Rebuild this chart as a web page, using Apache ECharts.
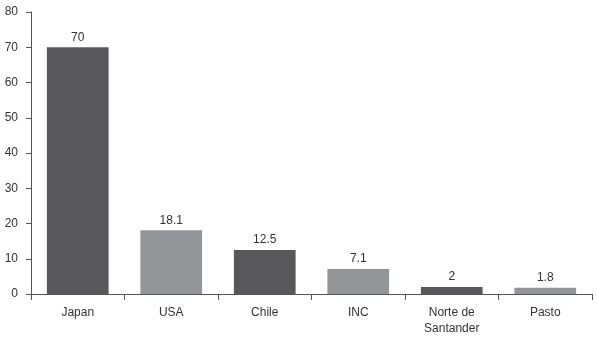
<!DOCTYPE html>
<html>
<head>
<meta charset="utf-8">
<script src="https://cdn.jsdelivr.net/npm/echarts@6/dist/echarts.min.js"></script>
<style>
  html, body { margin: 0; padding: 0; background: #fff; }
  #main { width: 597px; height: 344px; }
</style>
</head>
<body>
<div id="main"></div>
<script>
// categories and values
var categories = ['Japan', 'USA', 'Chile', 'INC', 'Norte de\nSantander', 'Pasto'];
var values = [70, 18.1, 12.5, 7.1, 2, 1.8];
var barColors = ['#58585a', '#939598', '#58585a', '#939598', '#58585a', '#939598'];
var yTicks = [0, 10, 20, 30, 40, 50, 60, 70, 80];

var myChart = echarts.init(document.getElementById('main'));

myChart.setOption({
    animation: false,
    textStyle: { fontFamily: 'Liberation Sans, Arial, sans-serif' },
    grid: { left: 31, right: 5, top: 12, bottom: 50 },
    xAxis: {
        type: 'category',
        data: categories,
        axisLine: { lineStyle: { color: '#555', width: 1 } },
        axisTick: { show: true, length: 6, lineStyle: { color: '#555' } },
        axisLabel: { color: '#333', fontSize: 12, margin: 11, lineHeight: 16, interval: 0 }
    },
    yAxis: {
        type: 'value',
        min: yTicks[0],
        max: yTicks[yTicks.length - 1],
        interval: 10,
        splitLine: { show: false },
        axisLine: { show: true, lineStyle: { color: '#555', width: 1 } },
        axisTick: { show: true, length: 5, lineStyle: { color: '#555' } },
        axisLabel: { color: '#333', fontSize: 12, margin: 13 }
    },
    series: [{
        type: 'bar',
        barWidth: '66%',
        data: values.map(function (v, i) {
            return { value: v, itemStyle: { color: barColors[i] } };
        }),
        label: {
            show: true,
            position: 'top',
            distance: 4,
            color: '#333',
            fontSize: 12
        }
    }]
});
</script>
</body>
</html>
